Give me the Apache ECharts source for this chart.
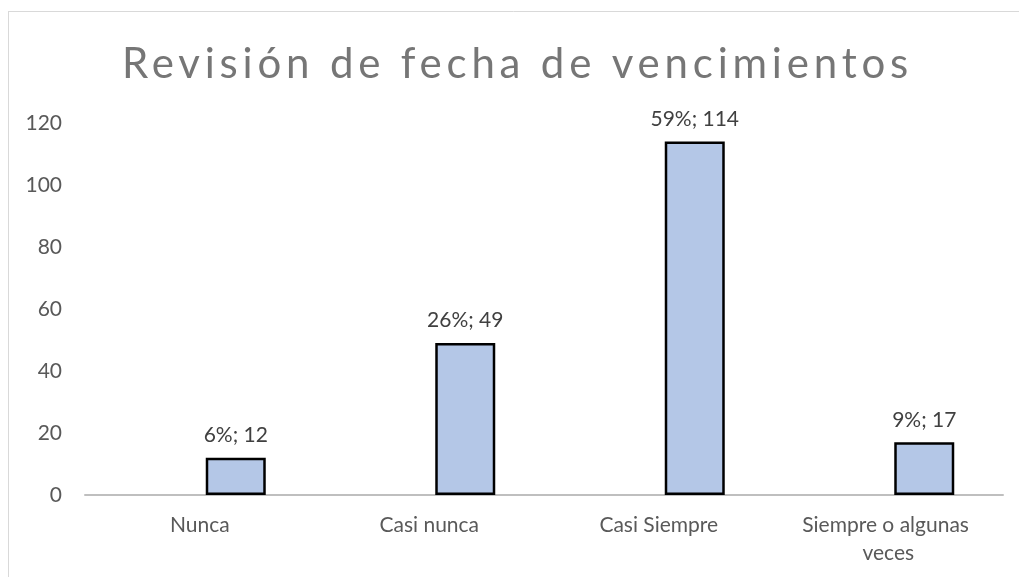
<!DOCTYPE html>
<html>
<head>
<meta charset="utf-8">
<script src="https://cdn.jsdelivr.net/npm/echarts@6/dist/echarts.min.js"></script>
<style>html,body{margin:0;padding:0;background:#fff}#chart{width:1019px;height:577px}</style>
</head>
<body>
<div id="chart"></div>
<script>
const titleText = 'Revisión de fecha de vencimientos';
const categories = ['Nunca', 'Casi nunca', 'Casi Siempre', 'Siempre o algunas veces'];
const percentages = [6, 26, 59, 9];
const values = [12, 49, 114, 17];
const yTicks = [0, 20, 40, 60, 80, 100, 120];

const TITLE_SPACING = 4.8;
const origFill = CanvasRenderingContext2D.prototype.fillText;
CanvasRenderingContext2D.prototype.fillText = function (t) {
  if (t === titleText && 'letterSpacing' in this) {
    const prev = this.letterSpacing;
    this.letterSpacing = TITLE_SPACING + 'px';
    origFill.apply(this, arguments);
    this.letterSpacing = prev;
  } else {
    origFill.apply(this, arguments);
  }
};

const chart = echarts.init(document.getElementById('chart'), null, { renderer: 'canvas' });
const FONT = "Lato, 'Open Sans', sans-serif";
chart.setOption({
  animation: false,
  backgroundColor: '#ffffff',
  title: {
    text: titleText,
    left: 117,
    top: 38,
    textStyle: { fontFamily: FONT, fontSize: 42, fontWeight: 'normal', color: '#767676' }
  },
  graphic: [
    { type: 'line', shape: { x1: 8, y1: 11.5, x2: 1019, y2: 11.5 }, style: { stroke: '#d9d9d9', lineWidth: 1 } },
    { type: 'line', shape: { x1: 8.5, y1: 11, x2: 8.5, y2: 577 }, style: { stroke: '#d9d9d9', lineWidth: 1 } }
  ],
  grid: { left: 85, right: 16, top: 123, bottom: 82, containLabel: false },
  xAxis: {
    type: 'category',
    data: categories,
    axisLine: { show: true, lineStyle: { color: '#bfbfbf', width: 2 } },
    axisTick: { show: false },
    axisLabel: {
      fontFamily: FONT, fontSize: 21, color: '#595959', margin: 16,
      width: 215, overflow: 'break', lineHeight: 28, interval: 0
    }
  },
  yAxis: {
    type: 'value',
    min: yTicks[0],
    max: yTicks[yTicks.length - 1],
    interval: 20,
    axisLine: { show: false },
    axisTick: { show: false },
    splitLine: { show: false },
    axisLabel: { fontFamily: FONT, fontSize: 21, color: '#595959', margin: 23 }
  },
  series: [
    {
      name: 'Porcentaje',
      type: 'bar',
      data: percentages.map(p => p / 100),
      barWidth: 60,
      barGap: '20%',
      silent: true,
      itemStyle: { color: 'rgba(0,0,0,0)' }
    },
    {
      name: 'Frecuencia',
      type: 'bar',
      data: values,
      barWidth: 60,
      barGap: '20%',
      itemStyle: { color: '#b4c7e7', borderColor: '#000000', borderWidth: 2.5 },
      label: {
        show: true,
        position: 'top',
        distance: 12,
        fontFamily: FONT,
        fontSize: 21,
        color: '#404040',
        formatter: p => percentages[p.dataIndex] + '%; ' + p.value
      }
    }
  ]
});
</script>
</body>
</html>
